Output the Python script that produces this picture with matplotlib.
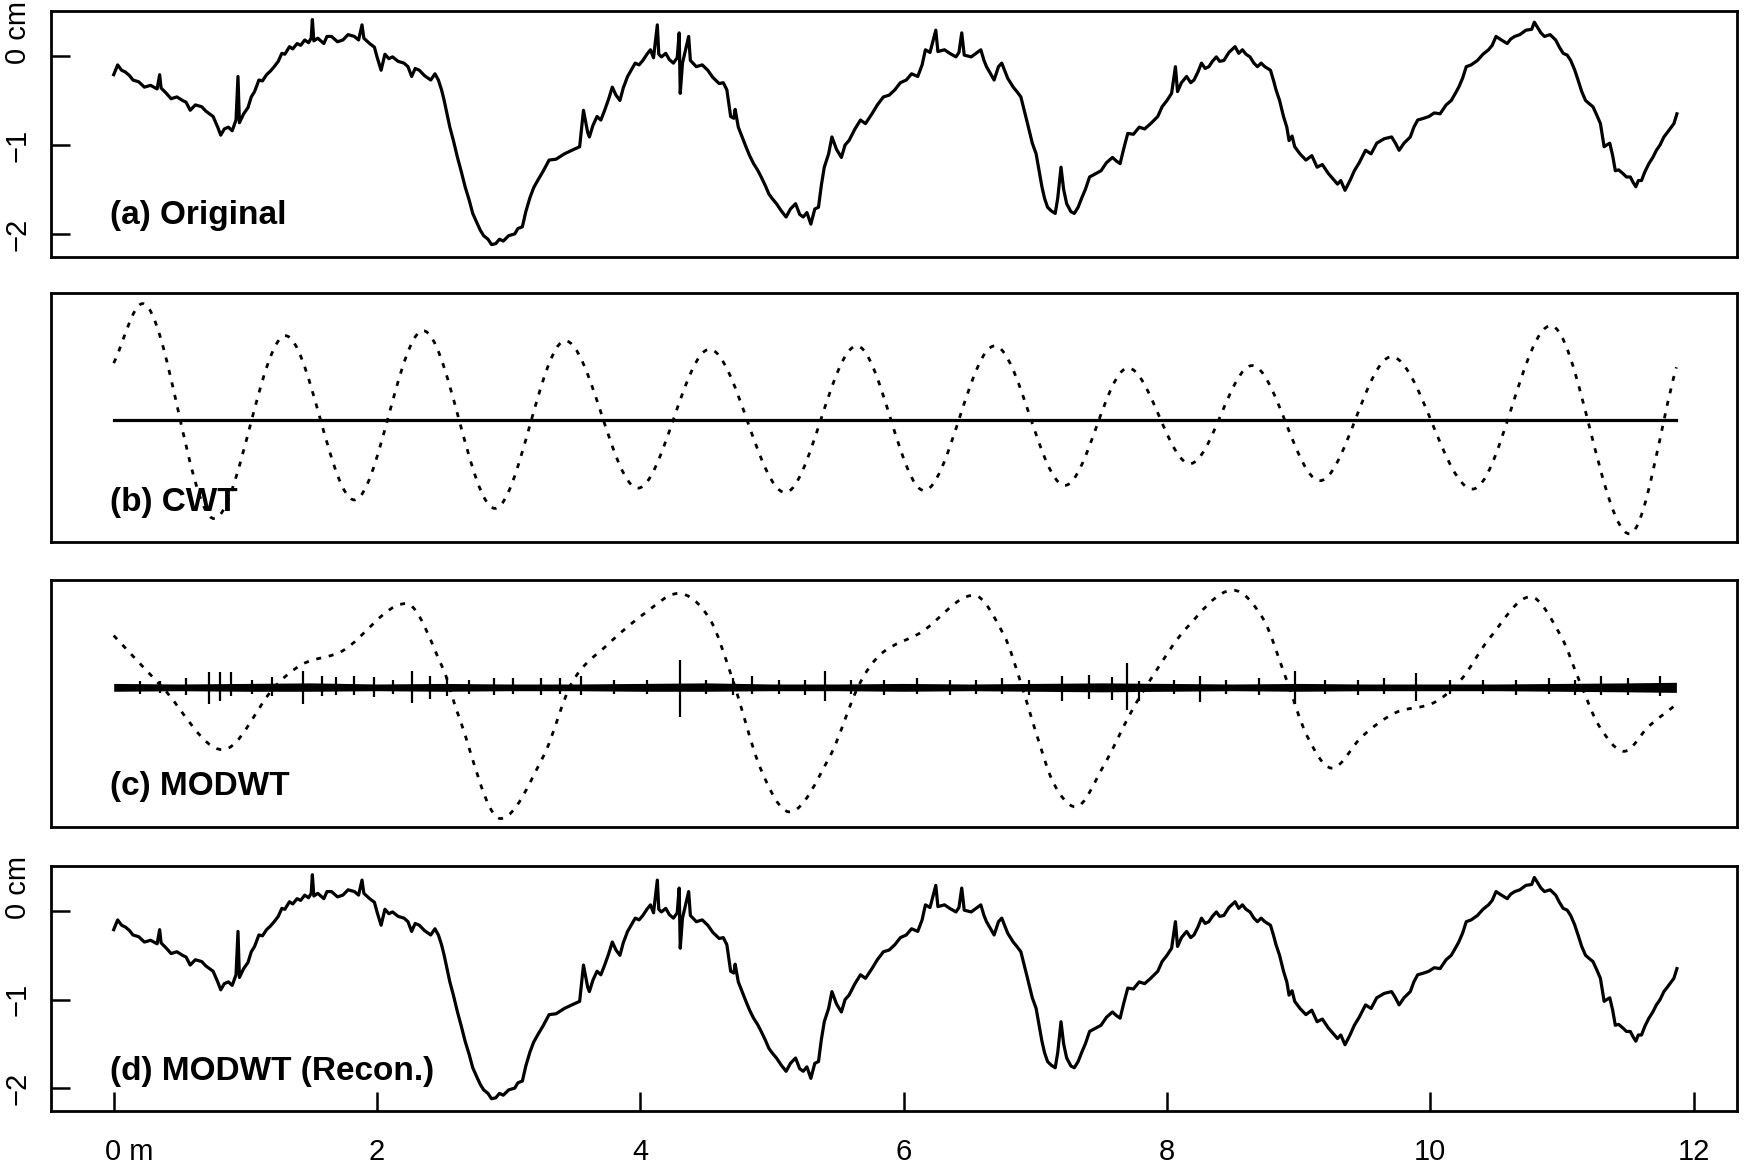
import numpy as np
import matplotlib
matplotlib.use('Agg')
import matplotlib.pyplot as plt
from matplotlib.path import Path
from matplotlib.patches import PathPatch
from matplotlib import transforms

plt.rcParams['font.family'] = ['Liberation Sans', 'DejaVu Sans']

# (a) original profile, distance in m, height in cm
orig_x = [0.00, 0.03, 0.06, 0.088, 0.12, 0.146, 0.19, 0.233, 0.28, 0.33, 0.349, 0.36,
          0.40, 0.436, 0.48, 0.523, 0.55, 0.581, 0.62, 0.668, 0.70, 0.755, 0.79, 0.813,
          0.84, 0.871, 0.90, 0.929, 0.944, 0.955, 0.987, 1.02, 1.045, 1.07, 1.103, 1.13,
          1.161, 1.19, 1.219, 1.25, 1.277, 1.30, 1.335, 1.36, 1.393, 1.42, 1.451, 1.48,
          1.50, 1.509, 1.52, 1.55, 1.596, 1.62, 1.654, 1.70, 1.741, 1.78, 1.828, 1.86,
          1.886, 1.90, 1.944, 1.98, 2.00, 2.031, 2.06, 2.09, 2.118, 2.16, 2.205, 2.235,
          2.263, 2.29, 2.321, 2.36, 2.408, 2.44, 2.466, 2.49, 2.51, 2.553, 2.58, 2.611,
          2.64, 2.669, 2.70, 2.727, 2.76, 2.785, 2.81, 2.843, 2.87, 2.901, 2.93, 2.959,
          3.00, 3.046, 3.07, 3.104, 3.13, 3.162, 3.19, 3.22, 3.26, 3.307, 3.36, 3.423,
          3.48, 3.539, 3.568, 3.60, 3.613, 3.64, 3.671, 3.70, 3.729, 3.76, 3.787, 3.815,
          3.845, 3.87, 3.903, 3.93, 3.961, 3.99, 4.019, 4.05, 4.077, 4.10, 4.129, 4.14,
          4.16, 4.193, 4.22, 4.251, 4.28, 4.295, 4.303, 4.32, 4.367, 4.38, 4.425, 4.47,
          4.512, 4.55, 4.599, 4.63, 4.657, 4.686, 4.71, 4.72, 4.744, 4.77, 4.802, 4.83,
          4.86, 4.89, 4.918, 4.95, 4.976, 5.00, 5.034, 5.07, 5.107, 5.14, 5.179, 5.21,
          5.237, 5.265, 5.295, 5.325, 5.353, 5.375, 5.397, 5.43, 5.455, 5.49, 5.527, 5.555,
          5.585, 5.63, 5.672, 5.71, 5.759, 5.80, 5.846, 5.89, 5.933, 5.975, 6.02, 6.06,
          6.107, 6.14, 6.165, 6.20, 6.244, 6.26, 6.31, 6.35, 6.397, 6.42, 6.441, 6.46,
          6.513, 6.55, 6.586, 6.61, 6.629, 6.66, 6.687, 6.72, 6.745, 6.79, 6.832, 6.86,
          6.89, 6.934, 6.977, 7.006, 7.03, 7.05, 7.07, 7.093, 7.12, 7.151, 7.17, 7.195,
          7.215, 7.238, 7.27, 7.296, 7.325, 7.354, 7.38, 7.412, 7.45, 7.499, 7.54, 7.586,
          7.615, 7.644, 7.67, 7.702, 7.745, 7.789, 7.83, 7.876, 7.93, 7.963, 8.00, 8.035,
          8.064, 8.08, 8.11, 8.149, 8.18, 8.205, 8.235, 8.262, 8.29, 8.318, 8.345, 8.375,
          8.40, 8.432, 8.47, 8.517, 8.545, 8.573, 8.60, 8.63, 8.66, 8.687, 8.715, 8.743,
          8.786, 8.81, 8.828, 8.855, 8.885, 8.91, 8.927, 8.95, 8.97, 9.01, 9.055, 9.10,
          9.14, 9.18, 9.225, 9.26, 9.295, 9.32, 9.352, 9.39, 9.423, 9.46, 9.508, 9.55,
          9.593, 9.65, 9.706, 9.735, 9.763, 9.80, 9.848, 9.875, 9.904, 9.95, 9.989, 10.03,
          10.074, 10.12, 10.159, 10.19, 10.216, 10.245, 10.273, 10.31, 10.358, 10.40, 10.442, 10.47,
          10.499, 10.54, 10.584, 10.61, 10.641, 10.68, 10.726, 10.77, 10.79, 10.811, 10.84, 10.867,
          10.91, 10.952, 10.98, 11.009, 11.04, 11.066, 11.095, 11.122, 11.15, 11.179, 11.21, 11.235,
          11.26, 11.292, 11.32, 11.34, 11.363, 11.385, 11.405, 11.43, 11.462, 11.49, 11.519, 11.54,
          11.561, 11.58, 11.604, 11.63, 11.66, 11.69, 11.717, 11.745, 11.774, 11.80, 11.83, 11.85,
          11.873]
orig_y = [-0.21, -0.10, -0.16, -0.18, -0.22, -0.27, -0.29, -0.35, -0.33, -0.37, -0.21, -0.36,
          -0.42, -0.48, -0.46, -0.50, -0.52, -0.61, -0.55, -0.57, -0.62, -0.68, -0.80, -0.89,
          -0.82, -0.80, -0.84, -0.72, -0.23, -0.75, -0.65, -0.58, -0.46, -0.40, -0.27, -0.28,
          -0.21, -0.17, -0.12, -0.06, 0.03, 0.02, 0.105, 0.08, 0.14, 0.12, 0.18, 0.15,
          0.20, 0.41, 0.17, 0.20, 0.14, 0.22, 0.22, 0.16, 0.18, 0.24, 0.22, 0.18,
          0.35, 0.20, 0.14, 0.10, -0.01, -0.16, 0.02, -0.03, -0.01, -0.06, -0.08, -0.12,
          -0.23, -0.14, -0.16, -0.22, -0.27, -0.20, -0.27, -0.38, -0.50, -0.80, -0.95, -1.14,
          -1.30, -1.47, -1.62, -1.77, -1.88, -1.96, -2.02, -2.06, -2.12, -2.11, -2.06, -2.08,
          -2.02, -2.00, -1.94, -1.92, -1.75, -1.59, -1.48, -1.40, -1.30, -1.17, -1.16, -1.10,
          -1.06, -1.02, -0.61, -0.86, -0.91, -0.78, -0.68, -0.72, -0.61, -0.48, -0.35, -0.44,
          -0.50, -0.36, -0.23, -0.16, -0.08, -0.10, -0.05, 0.02, 0.07, -0.02, 0.35, 0.02,
          -0.01, 0.03, -0.04, -0.08, -0.02, 0.26, -0.42, -0.08, 0.22, -0.05, -0.12, -0.10,
          -0.16, -0.24, -0.31, -0.30, -0.38, -0.68, -0.70, -0.60, -0.80, -0.90, -1.02, -1.12,
          -1.21, -1.28, -1.36, -1.46, -1.55, -1.60, -1.66, -1.74, -1.81, -1.72, -1.66, -1.78,
          -1.81, -1.76, -1.89, -1.72, -1.70, -1.45, -1.25, -1.10, -0.91, -1.05, -1.14, -1.00,
          -0.95, -0.82, -0.72, -0.76, -0.65, -0.55, -0.46, -0.44, -0.38, -0.30, -0.27, -0.20,
          -0.23, -0.10, 0.07, 0.04, 0.29, 0.05, 0.07, 0.03, -0.01, 0.04, 0.26, 0.01,
          -0.01, 0.03, 0.07, -0.05, -0.12, -0.20, -0.27, -0.12, -0.08, -0.25, -0.35, -0.40,
          -0.46, -0.72, -0.98, -1.10, -1.30, -1.47, -1.60, -1.70, -1.74, -1.77, -1.60, -1.25,
          -1.50, -1.66, -1.75, -1.77, -1.70, -1.59, -1.50, -1.36, -1.33, -1.29, -1.20, -1.14,
          -1.18, -1.21, -1.05, -0.87, -0.88, -0.80, -0.82, -0.76, -0.68, -0.57, -0.50, -0.42,
          -0.12, -0.40, -0.30, -0.23, -0.30, -0.27, -0.18, -0.08, -0.14, -0.12, -0.06, -0.01,
          -0.06, -0.05, 0.04, 0.105, 0.03, 0.07, 0.02, -0.01, -0.08, -0.12, -0.08, -0.12,
          -0.16, -0.28, -0.38, -0.50, -0.68, -0.80, -0.95, -0.90, -1.02, -1.10, -1.17, -1.12,
          -1.25, -1.22, -1.32, -1.38, -1.44, -1.40, -1.51, -1.40, -1.29, -1.20, -1.06, -1.10,
          -0.98, -0.93, -0.91, -0.98, -1.06, -0.98, -0.91, -0.80, -0.72, -0.70, -0.68, -0.64,
          -0.65, -0.55, -0.50, -0.42, -0.35, -0.25, -0.12, -0.10, -0.05, 0.02, 0.07, 0.12,
          0.22, 0.18, 0.14, 0.19, 0.22, 0.24, 0.29, 0.30, 0.38, 0.33, 0.26, 0.22,
          0.24, 0.18, 0.10, 0.03, 0.01, -0.05, -0.15, -0.27, -0.40, -0.50, -0.54, -0.57,
          -0.65, -0.76, -1.02, -1.00, -0.98, -1.12, -1.29, -1.28, -1.32, -1.36, -1.36, -1.42,
          -1.47, -1.40, -1.40, -1.30, -1.21, -1.14, -1.06, -1.00, -0.91, -0.86, -0.80, -0.76,
          -0.65]

# (d) MODWT reconstruction: in the picture it is the same trace as (a)
recon_x = list(orig_x)
recon_y = list(orig_y)

# (b) CWT: dashed band component (turning points), solid residual
cwt_x = [0.0, 0.219, 0.762, 1.305, 1.828, 2.350, 2.895, 3.43, 3.981, 4.525, 5.10, 5.644,
         6.155, 6.691, 7.224, 7.705, 8.174, 8.646, 9.161, 9.705, 10.321, 10.915, 11.513, 11.869]
cwt_y = [0.50, 1.026, -0.875, 0.742, -0.71, 0.787, -0.785, 0.697, -0.606, 0.622, -0.644, 0.652,
         -0.627, 0.652, -0.582, 0.457, -0.39, 0.478, -0.54, 0.556, -0.614, 0.831, -1.01, 0.463]
cwt_rest_x = [0.0, 11.869]
cwt_rest_y = [0.0, 0.0]

# (c) MODWT: dashed smooth component
modwt_x = [0.0, 0.37, 0.828, 1.219, 1.436, 1.741, 2.22, 2.503, 2.611, 2.938, 3.263, 3.481,
           3.743, 4.047, 4.287, 4.526, 4.70, 4.917, 5.134, 5.439, 5.657, 5.83, 6.135, 6.533,
           6.763, 6.889, 7.014, 7.139, 7.306, 7.516, 7.725, 7.893, 8.143, 8.50, 8.73, 8.897,
           9.065, 9.253, 9.483, 9.735, 10.028, 10.237, 10.446, 10.76, 10.99, 11.137, 11.283, 11.472,
           11.66, 11.869]
modwt_y = [0.462, 0.0, -0.556, 0.0, 0.208, 0.327, 0.747, 0.163, -0.226, -1.169, -0.616, 0.043,
           0.372, 0.672, 0.837, 0.612, 0.073, -0.735, -1.11, -0.616, 0.013, 0.30, 0.492, 0.821,
           0.462, 0.043, -0.436, -0.855, -1.065, -0.705, -0.226, 0.103, 0.522, 0.866, 0.612, 0.103,
           -0.436, -0.72, -0.436, -0.226, -0.136, 0.073, 0.432, 0.807, 0.462, 0.043, -0.346, -0.57,
           -0.346, -0.152]
# (c) MODWT detail: envelope of the dense noise band and its spikes
band_x = [0.0, 0.5, 1.0, 1.5, 2.0, 2.5, 3.0, 3.5, 4.0, 4.5, 5.0, 5.5, 6.0, 6.5, 7.0, 7.5,
          8.0, 8.5, 9.0, 9.5, 10.0, 10.5, 11.0, 11.5, 11.869]
band_hi = [0.035, 0.03, 0.035, 0.04, 0.03, 0.035, 0.03, 0.03, 0.035, 0.04, 0.03, 0.03,
           0.035, 0.03, 0.035, 0.04, 0.035, 0.03, 0.035, 0.03, 0.03, 0.03, 0.035, 0.04, 0.045]
band_lo = [-0.035, -0.03, -0.035, -0.035, -0.03, -0.035, -0.03, -0.03, -0.035, -0.035, -0.03, -0.03,
           -0.035, -0.03, -0.035, -0.04, -0.035, -0.03, -0.035, -0.03, -0.03, -0.03, -0.035, -0.04, -0.045]
spike_x = [0.20, 0.35, 0.55, 0.722, 0.807, 0.891, 1.05, 1.20, 1.435, 1.58, 1.689, 1.822, 1.98,
           2.12, 2.269, 2.40, 2.535, 2.70, 2.885, 3.03, 3.247, 3.393, 3.55, 3.80, 4.05, 4.30,
           4.50, 4.70, 4.85, 5.05, 5.25, 5.40, 5.60, 5.85, 6.10, 6.35, 6.55, 6.75, 6.95, 7.20,
           7.41, 7.58, 7.70, 7.79, 8.05, 8.25, 8.45, 8.70, 8.975, 9.20, 9.45, 9.65, 9.89, 10.15,
           10.40, 10.65, 10.90, 11.10, 11.30, 11.50, 11.745]
spike_lo = [-0.06, -0.05, -0.07, -0.15, -0.12, -0.08, -0.06, -0.08, -0.15, -0.08, -0.07, -0.07, -0.09,
            -0.06, -0.14, -0.10, -0.08, -0.06, -0.07, -0.06, -0.07, -0.06, -0.07, -0.06, -0.06, -0.26,
            -0.06, -0.07, -0.06, -0.06, -0.07, -0.12, -0.06, -0.07, -0.06, -0.07, -0.06, -0.06, -0.07, -0.12,
            -0.10, -0.11, -0.20, -0.12, -0.06, -0.13, -0.06, -0.07, -0.15, -0.06, -0.07, -0.06, -0.12, -0.06,
            -0.06, -0.07, -0.06, -0.07, -0.07, -0.07, -0.08]
spike_hi = [0.06, 0.06, 0.08, 0.135, 0.14, 0.14, 0.07, 0.09, 0.15, 0.10, 0.09, 0.10, 0.09,
            0.07, 0.15, 0.10, 0.09, 0.07, 0.08, 0.08, 0.08, 0.08, 0.10, 0.07, 0.07, 0.24,
            0.07, 0.08, 0.10, 0.07, 0.07, 0.15, 0.07, 0.07, 0.08, 0.07, 0.07, 0.08, 0.07, 0.10,
            0.11, 0.09, 0.22, 0.06, 0.07, 0.10, 0.07, 0.08, 0.15, 0.07, 0.07, 0.08, 0.13, 0.07,
            0.07, 0.07, 0.08, 0.07, 0.10, 0.08, 0.10]

x_ticks = [0, 2, 4, 6, 8, 10, 12]
x_labels = ['0 m', '2', '4', '6', '8', '10', '12']
y_ticks = [0, -1, -2]
y_labels = ['0 cm', '\u22121', '\u22122']


def smooth_path(xs, ys):
    # cubic Bezier through the points, flat at turning points
    xs = np.asarray(xs, float)
    ys = np.asarray(ys, float)
    n = len(xs)
    m = np.zeros(n)
    for i in range(n):
        if i == 0:
            m[i] = (ys[1] - ys[0]) / (xs[1] - xs[0])
        elif i == n - 1:
            m[i] = (ys[-1] - ys[-2]) / (xs[-1] - xs[-2])
        elif (ys[i] - ys[i - 1]) * (ys[i + 1] - ys[i]) <= 0:
            m[i] = 0.0
        else:
            m[i] = (ys[i + 1] - ys[i - 1]) / (xs[i + 1] - xs[i - 1])
    verts = [(xs[0], ys[0])]
    codes = [Path.MOVETO]
    for i in range(n - 1):
        h = xs[i + 1] - xs[i]
        verts += [(xs[i] + h / 3, ys[i] + m[i] * h / 3),
                  (xs[i + 1] - h / 3, ys[i + 1] - m[i + 1] * h / 3),
                  (xs[i + 1], ys[i + 1])]
        codes += [Path.CURVE4] * 3
    return Path(verts, codes)


fig = plt.figure(figsize=(17.46, 11.66), dpi=100)
left, width = 0.0293, 0.9656
axa = fig.add_axes([left, 0.7794, width, 0.2111])
axb = fig.add_axes([left, 0.5349, width, 0.2140])
axc = fig.add_axes([left, 0.2905, width, 0.2120])
axd = fig.add_axes([left, 0.0469, width, 0.2101])

dotted = (0, (1.8, 2.8))
for ax in (axa, axb, axc, axd):
    ax.set_xlim(-0.475, 12.33)
    for s in ax.spines.values():
        s.set_linewidth(2.0)
    ax.set_xticks([])
    ax.set_yticks([])

# y axis for the two profile panels
def profile_axis(ax):
    ax.set_ylim(-2.262, 0.505)
    ax.set_yticks(y_ticks)
    ax.tick_params(axis='y', direction='in', length=14, width=1.8, labelleft=False)
    for v, s in zip(y_ticks, y_labels):
        if s.startswith('0'):
            tr = transforms.offset_copy(ax.get_yaxis_transform(), fig=fig, x=-24, y=-6, units='points')
            ax.text(0, v, s, transform=tr, rotation=90, ha='center', va='bottom', fontsize=21)
        else:
            tr = transforms.offset_copy(ax.get_yaxis_transform(), fig=fig, x=-24, y=0, units='points')
            ax.text(0, v, s, transform=tr, rotation=90, ha='center', va='center', fontsize=21)

axa.plot(orig_x, orig_y, color='black', lw=2.3)
profile_axis(axa)
axa.text(-0.03, -1.79, '(a) Original', fontsize=24, fontweight='bold', ha='left', va='center')

axb.set_ylim(-1.085, 1.122)
axb.plot(cwt_rest_x, cwt_rest_y, color='black', lw=2.3)
axb.add_patch(PathPatch(smooth_path(cwt_x, cwt_y), fill=False, edgecolor='black',
                        lw=2.0, linestyle=dotted))
axb.text(-0.03, -0.73, '(b) CWT', fontsize=24, fontweight='bold', ha='left', va='center')

axc.set_ylim(-1.247, 0.956)
axc.fill_between(band_x, band_lo, band_hi, color='black', lw=0)
axc.vlines(spike_x, spike_lo, spike_hi, color='black', lw=1.6)
axc.add_patch(PathPatch(smooth_path(modwt_x, modwt_y), fill=False, edgecolor='black',
                        lw=2.0, linestyle=dotted))
axc.text(-0.03, -0.88, '(c) MODWT', fontsize=24, fontweight='bold', ha='left', va='center')

axd.plot(recon_x, recon_y, color='black', lw=2.3)
profile_axis(axd)
axd.text(-0.03, -1.81, '(d) MODWT (Recon.)', fontsize=24, fontweight='bold', ha='left', va='center')
axd.set_xticks(x_ticks)
axd.tick_params(axis='x', direction='in', length=14, width=1.8, labelbottom=False)
for v, s in zip(x_ticks, x_labels):
    if s == '0 m':
        tr = transforms.offset_copy(axd.get_xaxis_transform(), fig=fig, x=-6, y=-29, units='points')
        axd.text(v, 0, s, transform=tr, ha='left', va='center', fontsize=21)
    else:
        tr = transforms.offset_copy(axd.get_xaxis_transform(), fig=fig, x=0, y=-29, units='points')
        axd.text(v, 0, s, transform=tr, ha='center', va='center', fontsize=21)

fig.savefig('out.png', dpi=100)
